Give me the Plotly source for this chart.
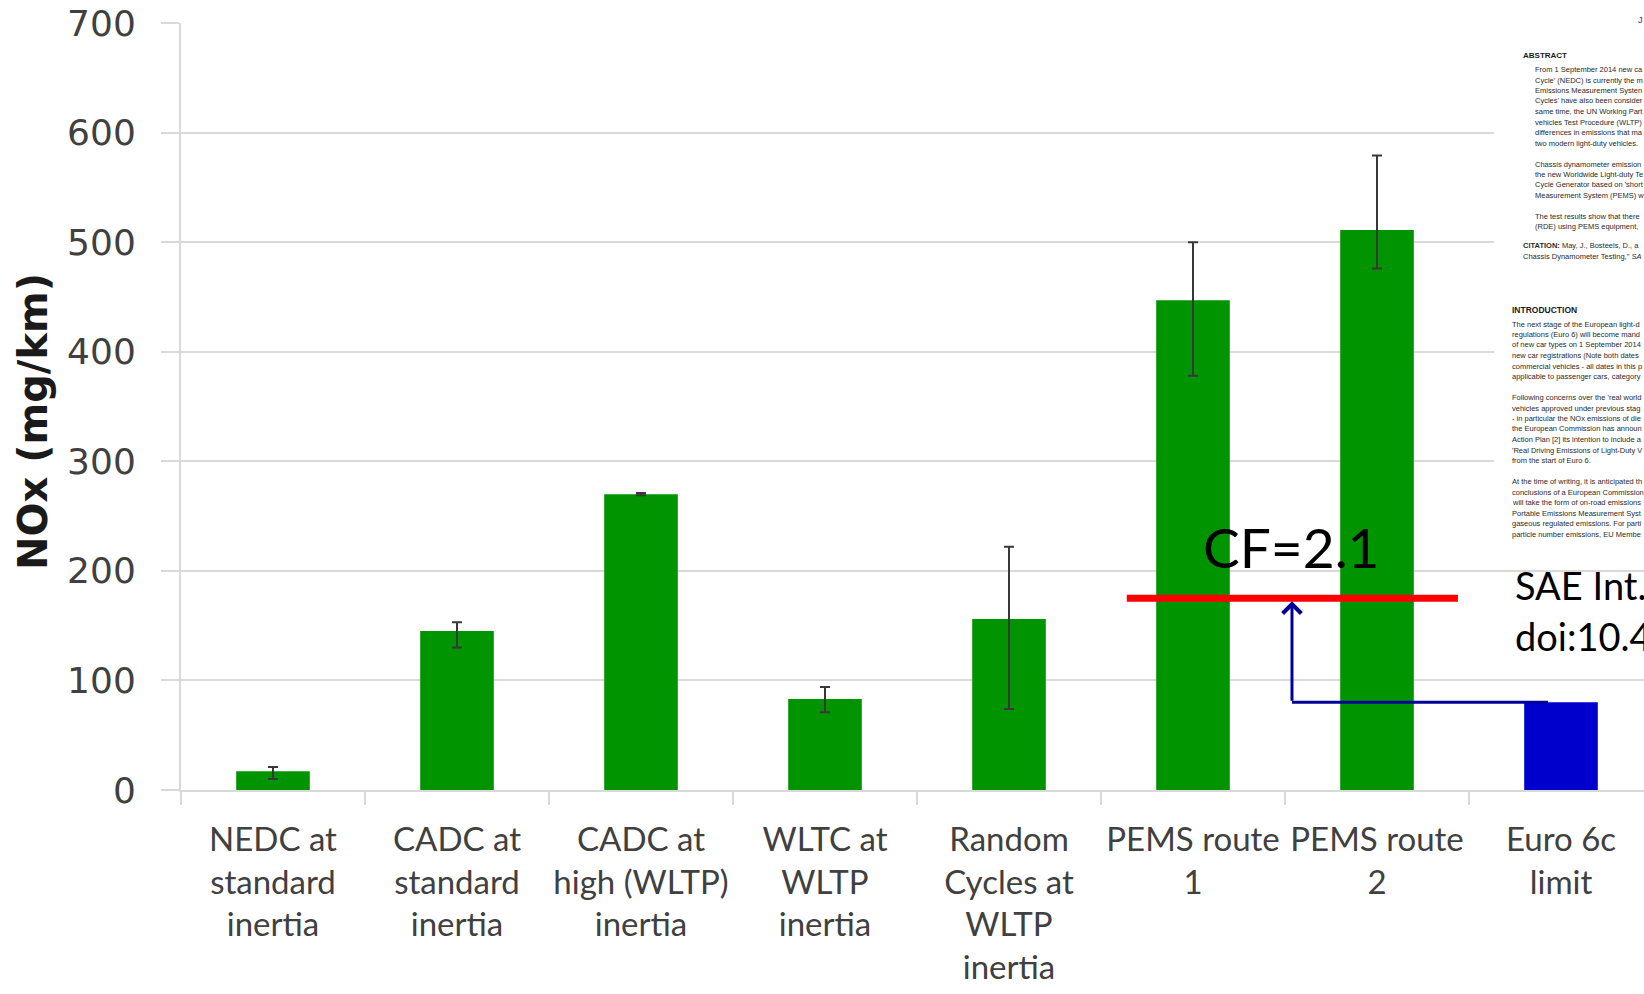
import plotly.graph_objects as go

# ---------------- data ----------------
categories = [
    "NEDC at<br>standard<br>inertia",
    "CADC at<br>standard<br>inertia",
    "CADC at<br>high (WLTP)<br>inertia",
    "WLTC at<br>WLTP<br>inertia",
    "Random<br>Cycles at<br>WLTP<br>inertia",
    "PEMS route<br>1",
    "PEMS route<br>2",
    "Euro 6c<br>limit",
]
nox_values = [17, 145, 270, 83, 156, 447, 511, 80]
err_high_values = [21, 153, 271, 94, 222, 500, 579, None]
err_low_values = [10, 130, 269, 71, 74, 378, 476, None]
y_ticks = [0, 100, 200, 300, 400, 500, 600, 700]
euro_limit = 80
cf_level = 175
cf_label = "CF=2.1"
ref_lines = ["SAE Int.", "doi:10.4"]

abstract_lines = [
    "From 1 September 2014 new ca",
    "Cycle' (NEDC) is currently the m",
    "Emissions Measurement Systen",
    "Cycles' have also been consider",
    "same time, the UN Working Part",
    "vehicles Test Procedure (WLTP)",
    "differences in emissions that ma",
    "two modern light-duty vehicles.",
    "",
    "Chassis dynamometer emission",
    "the new Worldwide Light-duty Te",
    "Cycle Generator based on 'short",
    "Measurement System (PEMS) w",
    "",
    "The test results show that there",
    "(RDE) using PEMS equipment, ",
]
citation_lines = [
    "<b>CITATION:</b> May, J., Bosteels, D., a",
    "Chassis Dynamometer Testing,\" <i>SA</i>",
]
intro_lines = [
    "The next stage of the European light-d",
    "regulations (Euro 6) will become mand",
    "of new car types on 1 September 2014",
    "new car registrations (Note both dates",
    "commercial vehicles - all dates in this p",
    "applicable to passenger cars, category",
    "",
    "Following concerns over the 'real world",
    "vehicles approved under previous stag",
    "- in particular the NOx emissions of die",
    "the European Commission has announ",
    "Action Plan [2] its intention to include a",
    "'Real Driving Emissions of Light-Duty V",
    "from the start of Euro 6.",
    "",
    "At the time of writing, it is anticipated th",
    "conclusions of a European Commission",
    "will take the form of on-road emissions",
    "Portable Emissions Measurement Syst",
    "gaseous regulated emissions. For parti",
    "particle number emissions, EU Membe",
]

# ---------------- styling / layout constants ----------------
W, H = 1644, 994
ML, MR, MT, MB = 181, 0, 23, 204
PW = W - ML - MR
PH = H - MT - MB
GREEN = "#009400"
BLUE = "#0000cc"
NAVY = "#00009a"
GRID = "#d9d9d9"
TXT = "#404040"

n_green = len(categories) - 1
err_plus = [h - v for h, v in zip(err_high_values[:n_green], nox_values[:n_green])]
err_minus = [v - l for l, v in zip(err_low_values[:n_green], nox_values[:n_green])]


def px_x(px):
    return (px - ML) / PW


def px_y(py):
    return (H - MB - py) / PH


fig = go.Figure()
fig.add_trace(go.Bar(
    x=categories[:n_green],
    y=nox_values[:n_green],
    width=0.4,
    marker=dict(color=GREEN, line=dict(width=0)),
    error_y=dict(type="data", symmetric=False, array=err_plus, arrayminus=err_minus,
                 color="#383838", thickness=2, width=5),
    showlegend=False,
    hoverinfo="skip",
))
fig.add_trace(go.Bar(
    x=categories[n_green:],
    y=nox_values[n_green:],
    width=0.4,
    marker=dict(color=BLUE, line=dict(width=0)),
    showlegend=False,
    hoverinfo="skip",
))

# red CF line
fig.add_shape(type="line", xref="x", yref="y", x0=4.64, x1=6.44, y0=cf_level, y1=cf_level,
              line=dict(color="#ff0000", width=7), layer="above")
# blue connector from Euro limit
fig.add_shape(type="line", xref="x", yref="y", x0=6.93, x1=5.538, y0=euro_limit, y1=euro_limit,
              line=dict(color=NAVY, width=3), layer="above")
fig.add_annotation(x=5.538, y=cf_level, ax=5.538, ay=euro_limit, xref="x", yref="y",
                   axref="x", ayref="y", text="", showarrow=True, arrowhead=4,
                   arrowsize=1.2, arrowwidth=3, arrowcolor=NAVY, standoff=3)
fig.add_annotation(x=5.538, y=cf_level + 22, xref="x", yref="y", text=cf_label,
                   showarrow=False, yanchor="bottom", yshift=-8,
                   font=dict(family="Lato", size=55, color="#000000"))

# paper overlay (white panel)
fig.add_shape(type="rect", xref="paper", yref="paper", x0=px_x(1494), x1=px_x(1700),
              y0=px_y(557), y1=px_y(-10), fillcolor="white", line=dict(width=0), layer="above")

paper_font = dict(family="Liberation Sans", size=7.5, color="#2a2a2a")
fig.add_annotation(x=px_x(1636), y=px_y(13), xref="paper", yref="paper", text="J",
                   showarrow=False, xanchor="left", font=dict(family="Liberation Sans", size=9, color="#1a3a7a"))
fig.add_annotation(x=px_x(1521), y=px_y(49), xref="paper", yref="paper", text="<b>ABSTRACT</b>",
                   showarrow=False, xanchor="left", font=dict(family="Liberation Sans", size=8, color="#1a1a1a"))
for i, t in enumerate(abstract_lines):
    if t:
        fig.add_annotation(x=px_x(1533), y=px_y(63 + 10.5 * i), xref="paper", yref="paper", text=t,
                           showarrow=False, xanchor="left", font=paper_font)
for i, t in enumerate(citation_lines):
    fig.add_annotation(x=px_x(1521), y=px_y(239 + 10.5 * i), xref="paper", yref="paper", text=t,
                       showarrow=False, xanchor="left", font=paper_font)
fig.add_annotation(x=px_x(1510), y=px_y(310), xref="paper", yref="paper", text="<b>INTRODUCTION</b>",
                   showarrow=False, xanchor="left", font=dict(family="Liberation Sans", size=8.5, color="#1a1a1a"))
for i, t in enumerate(intro_lines):
    if t:
        fig.add_annotation(x=px_x(1510), y=px_y(324 + 10.5 * i), xref="paper", yref="paper", text=t,
                           showarrow=False, xanchor="left", font=paper_font)

# reference text
for i, t in enumerate(ref_lines):
    fig.add_annotation(x=px_x(1513), y=px_y(585 + 51 * i), xref="paper", yref="paper", text=t,
                       showarrow=False, xanchor="left", yanchor="middle",
                       font=dict(family="Lato", size=38, color="#000000"))

# y axis title
fig.add_annotation(x=px_x(33), y=px_y(422), xref="paper", yref="paper", text="<b>NOx (mg/km)</b>",
                   showarrow=False, textangle=-90, xanchor="center", yanchor="middle",
                   font=dict(family="DejaVu Sans", size=40, color="#1a1a1a"))

fig.update_layout(
    width=W, height=H,
    margin=dict(l=ML, r=MR, t=MT, b=MB, pad=0),
    paper_bgcolor="white", plot_bgcolor="white",
    barmode="overlay",
    xaxis=dict(
        type="category", categoryorder="array", categoryarray=categories,
        range=[-0.5, -0.5 + PW / 184.0], tickson="boundaries",
        ticks="outside", ticklen=13, tickwidth=2, tickcolor=GRID,
        showline=True, linecolor=GRID, linewidth=2, showgrid=False, zeroline=False,
        tickfont=dict(family="Lato", size=33, color=TXT), ticklabelstandoff=19,
        tickangle=0,
    ),
    yaxis=dict(
        range=[0, 700], tickvals=y_ticks, ticktext=[str(v) for v in y_ticks],
        ticks="outside", ticklen=18, tickwidth=2, tickcolor=GRID,
        showgrid=True, gridcolor=GRID, gridwidth=2, zeroline=False,
        showline=True, linecolor=GRID, linewidth=2,
        tickfont=dict(family="DejaVu Sans", size=36, color=TXT), ticklabelstandoff=18,
    ),
)

fig.write_html("out.html")
